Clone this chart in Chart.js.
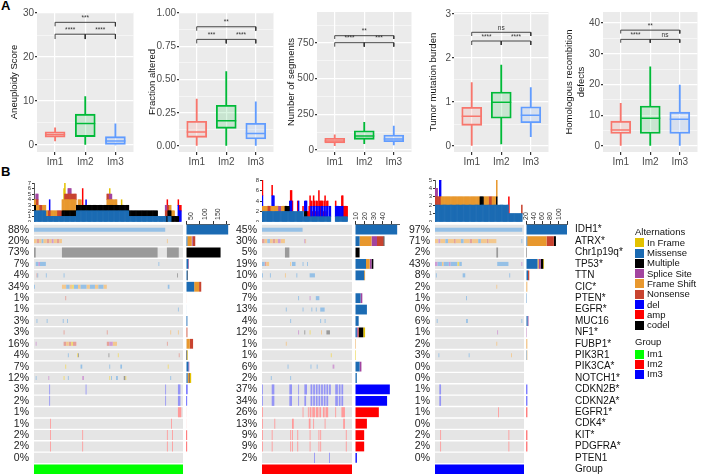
<!DOCTYPE html>
<html>
<head>
<meta charset="utf-8">
<script src="https://cdn.jsdelivr.net/npm/chart.js@4.4.1/dist/chart.umd.min.js"></script>
<style>
  body { margin:0; width:709px; height:476px; position:relative; overflow:hidden; background:#fff; font-family:'Liberation Sans', Arial, sans-serif; }
  canvas { position:absolute; }
  .tag { position:absolute; font-weight:bold; font-size:13px; }
  .leg { position:absolute; font-size:9.5px; line-height:10px; color:#111; white-space:nowrap; }
  .sw { position:absolute; width:9px; height:9px; }
</style>
</head>
<body>
<div class="tag" style="left:1px;top:-2px">A</div>
<div class="tag" style="left:1px;top:164px">B</div>

<canvas id="box1" width="145" height="170" style="left:0;top:0"></canvas>
<canvas id="box2" width="140" height="170" style="left:145px;top:0"></canvas>
<canvas id="box3" width="138" height="170" style="left:285px;top:0"></canvas>
<canvas id="box4" width="137" height="170" style="left:423px;top:0"></canvas>
<canvas id="box5" width="149" height="170" style="left:560px;top:0"></canvas>

<canvas id="top1" width="183" height="42" style="left:0;top:180px"></canvas>
<canvas id="top2" width="120" height="44" style="left:232px;top:178px"></canvas>
<canvas id="top3" width="119" height="44" style="left:405px;top:178px"></canvas>

<canvas id="mat1" width="183" height="251" style="left:0;top:224px"></canvas>
<canvas id="mat2" width="120" height="251" style="left:232px;top:224px"></canvas>
<canvas id="mat3" width="119" height="251" style="left:405px;top:224px"></canvas>

<canvas id="side1" width="50" height="285" style="left:181px;top:190px"></canvas>
<canvas id="side2" width="51" height="285" style="left:350px;top:190px"></canvas>
<canvas id="side3" width="188" height="285" style="left:521px;top:190px"></canvas>

<div id="legend"></div>

<script>
'use strict';

// ---------- panel A : boxplots ----------
const groups = ['Im1', 'Im2', 'Im3'];
const groupColors = ['#F8766D', '#00BA38', '#619CFF'];
const groupFills = ['rgba(248,118,109,0.15)', 'rgba(0,186,56,0.15)', 'rgba(97,156,255,0.15)'];

// [min, q1, median, q3, max] for Im1, Im2, Im3
const aneuploidy = [[0.9, 1.8, 2.4, 3.0, 3.9], [0, 1.9, 4.9, 7.0, 11], [0, 0, 0.9, 1.9, 4.8]];
const fractionAltered = [[0, 0.065, 0.105, 0.186, 0.353], [0, 0.133, 0.19, 0.306, 0.559], [0, 0.053, 0.095, 0.171, 0.333]];
const segments = [[30, 49, 63, 82, 107], [44, 75, 98, 135, 194], [35, 58, 77, 105, 168]];
const tmb = [[0, 0.47, 0.675, 0.88, 1.44], [0.045, 0.63, 0.993, 1.227, 1.84], [0.21, 0.53, 0.697, 0.893, 1.325]];
const hrd = [[0, 4.1, 5.2, 8.1, 13.9], [0, 4.1, 9.0, 13, 25.8], [0, 4.1, 8.7, 11, 19.8]];

// significance brackets: [from, to, height, tip, label]
const aneuploidySig = [[1, 3, 27.9, 27.0, '***'], [1, 2, 25.2, 24.1, '****'], [2, 3, 25.2, 24.1, '****']];
const fractionSig = [[1, 3, 0.897, 0.867, '**'], [1, 2, 0.802, 0.772, '***'], [2, 3, 0.802, 0.772, '****']];
const segmentsSig = [[1, 3, 801, 778, '**'], [1, 2, 752, 724, '****'], [2, 3, 752, 724, '***']];
const tmbSig = [[1, 3, 2.584, 2.5, 'ns'], [1, 2, 2.386, 2.295, '****'], [2, 3, 2.386, 2.295, '****']];
const hrdSig = [[1, 3, 37.7, 36.6, '**'], [1, 2, 34.7, 33.6, '****'], [2, 3, 34.7, 33.6, 'ns']];

// y tick labels (major) and minor grid positions
const aneuploidyTicks = [0, 10, 20, 30], aneuploidyMinor = [5, 15, 25];
const fractionTicks = [0, 0.25, 0.5, 0.75, 1], fractionMinor = [0.125, 0.375, 0.625, 0.875];
const segmentsTicks = [0, 250, 500, 750], segmentsMinor = [125, 375, 625, 875];
const tmbTicks = [0, 1, 2, 3], tmbMinor = [0.5, 1.5, 2.5];
const hrdTicks = [0, 10, 20, 30, 40], hrdMinor = [5, 15, 25, 35];

// ---------- panel B : oncoprint ----------
const genes = ['IDH1*', 'ATRX*', 'Chr1p19q*', 'TP53*', 'TTN', 'CIC*', 'PTEN*', 'EGFR*', 'MUC16', 'NF1*',
  'FUBP1*', 'PIK3R1', 'PIK3CA*', 'NOTCH1*', 'CDKN2B*', 'CDKN2A*', 'EGFR1*', 'CDK4*', 'KIT*', 'PDGFRA*', 'PTEN1'];

const altKeys = ['if', 'mis', 'mul', 'sp', 'fs', 'ns', 'del', 'amp', 'codel'];
const altNames = ['In Frame', 'Missense', 'Multiple', 'Splice Site', 'Frame Shift', 'Nonsense', 'del', 'amp', 'codel'];
const altColors = ['#E3C200', '#1B6BB3', '#000000', '#A2449F', '#E8982E', '#C8432F', '#0000FF', '#FF0000', '#000000'];
const altLight = ['#F0D96A', '#95C0E6', '#9A9A9A', '#D09CD3', '#F3C88E', '#E5A199', '#9494F6', '#FF9A9A', '#9A9A9A'];
const fullHeight = ['del', 'amp', 'codel'];
const topOrder = ['mis', 'codel', 'mul', 'fs', 'ns', 'sp', 'if', 'del', 'amp'];
const sideOrder = ['mis', 'fs', 'sp', 'ns', 'mul', 'if', 'del', 'amp', 'codel'];

const groupNames = ['Im1', 'Im2', 'Im3'];
const groupBarColors = ['#00FF00', '#FF0000', '#0000FF'];

// samples per group
const leftN = 176, midN = 102, rightN = 103;

// altered frequency labels
const leftPct = ['88%', '20%', '73%', '7%', '4%', '34%', '1%', '1%', '3%', '3%', '16%', '4%', '7%', '12%', '3%', '2%', '1%', '1%', '2%', '2%', '0%'];
const midPct = ['45%', '30%', '5%', '19%', '10%', '0%', '7%', '13%', '4%', '12%', '1%', '1%', '6%', '2%', '37%', '34%', '26%', '13%', '9%', '9%', '2%'];
const rightPct = ['97%', '71%', '2%', '43%', '8%', '2%', '1%', '0%', '6%', '1%', '2%', '3%', '0%', '0%', '1%', '1%', '1%', '0%', '2%', '2%', '0%'];

// matrix cells: [gene row, first sample, last sample (excl), alteration]
const leftMarks = [
  [0, 0, 155, 'mis'],
  [1, 0, 3, 'fs'], [1, 3, 6, 'ns'], [1, 6, 9, 'fs'], [1, 9, 11, 'mis'], [1, 11, 15, 'fs'], [1, 15, 18, 'ns'], [1, 18, 21, 'fs'],
  [1, 21, 23, 'sp'], [1, 23, 27, 'fs'], [1, 27, 30, 'ns'], [1, 30, 33, 'fs'], [1, 157, 158, 'fs'],
  [2, 0, 2, 'codel'], [2, 33, 146, 'codel'], [2, 157, 171, 'codel'],
  [3, 2, 5, 'mis'], [3, 5, 7, 'sp'], [3, 7, 14, 'mis'], [3, 147, 148, 'mis'],
  [4, 3, 4, 'ns'], [4, 4, 5, 'mis'], [4, 14, 15, 'mis'], [4, 35, 36, 'mis'], [4, 169, 170, 'mul'],
  [5, 0, 1, 'mis'], [5, 33, 38, 'fs'], [5, 38, 42, 'mis'], [5, 42, 45, 'fs'], [5, 45, 47, 'if'], [5, 47, 52, 'mis'], [5, 52, 55, 'fs'],
  [5, 55, 62, 'mis'], [5, 62, 66, 'fs'], [5, 66, 72, 'mis'], [5, 72, 76, 'fs'], [5, 76, 82, 'mis'], [5, 82, 86, 'fs'], [5, 158, 160, 'mis'],
  [6, 37, 38, 'ns'],
  [7, 170, 171, 'mis'],
  [8, 3, 4, 'mis'], [8, 15, 16, 'mis'], [8, 34, 35, 'mis'], [8, 39, 40, 'mis'],
  [9, 35, 36, 'ns'], [9, 86, 87, 'ns'], [9, 161, 162, 'fs'], [9, 170, 171, 'fs'],
  [10, 2, 3, 'sp'], [10, 35, 38, 'ns'], [10, 38, 41, 'fs'], [10, 41, 44, 'ns'], [10, 44, 46, 'if'], [10, 46, 50, 'ns'],
  [10, 86, 89, 'ns'], [10, 89, 93, 'sp'], [10, 93, 98, 'fs'], [10, 157, 158, 'ns'],
  [11, 40, 41, 'mis'], [11, 51, 52, 'if'], [11, 52, 53, 'mul'], [11, 88, 89, 'mul'], [11, 99, 100, 'if'], [11, 171, 172, 'ns'],
  [12, 37, 38, 'if'], [12, 55, 57, 'mis'], [12, 89, 90, 'mis'], [12, 102, 104, 'mis'], [12, 158, 159, 'if'],
  [13, 2, 3, 'mis'], [13, 17, 18, 'sp'], [13, 35, 36, 'if'], [13, 40, 41, 'mis'], [13, 57, 59, 'sp'], [13, 89, 90, 'if'],
  [13, 91, 92, 'mis'], [13, 97, 99, 'mis'], [13, 106, 108, 'mul'], [13, 108, 109, 'if'], [13, 161, 162, 'mis'],
  [14, 18, 19, 'del'], [14, 61, 62, 'del'], [14, 155, 156, 'del'], [14, 170, 173, 'del'],
  [15, 18, 19, 'del'], [15, 155, 156, 'del'], [15, 170, 173, 'del'],
  [16, 170, 174, 'amp'],
  [17, 19, 20, 'amp'], [17, 162, 163, 'amp'],
  [18, 19, 20, 'amp'], [18, 57, 58, 'amp'], [18, 157, 158, 'amp'], [18, 163, 164, 'amp'],
  [19, 19, 20, 'amp'], [19, 57, 58, 'amp'], [19, 157, 158, 'amp'], [19, 163, 164, 'amp']
];

const midMarks = [
  [0, 0, 46, 'mis'],
  [1, 0, 3, 'ns'], [1, 3, 6, 'fs'], [1, 6, 9, 'mis'], [1, 9, 12, 'fs'], [1, 12, 15, 'ns'], [1, 15, 18, 'fs'], [1, 18, 21, 'sp'],
  [1, 21, 26, 'fs'], [1, 48, 49, 'sp'], [1, 49, 50, 'fs'],
  [2, 26, 31, 'codel'],
  [3, 0, 3, 'mis'], [3, 3, 5, 'ns'], [3, 5, 8, 'fs'], [3, 32, 33, 'fs'], [3, 34, 38, 'mis'], [3, 46, 47, 'mis'], [3, 51, 52, 'mis'],
  [4, 0, 1, 'mis'], [4, 9, 10, 'mis'], [4, 26, 27, 'fs'], [4, 39, 40, 'mis'], [4, 54, 60, 'mis'],
  [6, 41, 42, 'mis'], [6, 54, 55, 'sp'], [6, 61, 65, 'mis'],
  [7, 27, 28, 'mis'], [7, 46, 47, 'mis'], [7, 56, 57, 'mis'], [7, 61, 62, 'mis'], [7, 66, 71, 'mis'],
  [8, 32, 33, 'mis'], [8, 66, 67, 'mis'], [8, 71, 72, 'mis'],
  [9, 41, 42, 'sp'], [9, 48, 49, 'mul'], [9, 54, 55, 'if'], [9, 67, 68, 'fs'], [9, 73, 77, 'mul'],
  [10, 27, 28, 'fs'],
  [11, 78, 79, 'if'],
  [12, 29, 30, 'mis'], [12, 55, 56, 'mis'], [12, 62, 63, 'mis'], [12, 80, 82, 'sp'],
  [13, 10, 11, 'mis'], [13, 32, 33, 'mis'],
  [14, 0, 1, 'del'], [14, 11, 14, 'del'], [14, 31, 34, 'del'], [14, 41, 42, 'del'], [14, 48, 51, 'del'], [14, 55, 57, 'del'],
  [14, 58, 60, 'del'], [14, 61, 63, 'del'], [14, 64, 66, 'del'], [14, 67, 69, 'del'], [14, 70, 72, 'del'], [14, 73, 75, 'del'],
  [14, 76, 78, 'del'], [14, 83, 86, 'del'], [14, 87, 89, 'del'], [14, 90, 92, 'del'],
  [15, 0, 1, 'del'], [15, 11, 14, 'del'], [15, 31, 34, 'del'], [15, 41, 42, 'del'], [15, 48, 50, 'del'], [15, 55, 57, 'del'],
  [15, 58, 60, 'del'], [15, 61, 63, 'del'], [15, 64, 66, 'del'], [15, 67, 69, 'del'], [15, 70, 72, 'del'], [15, 73, 75, 'del'],
  [15, 83, 86, 'del'], [15, 87, 89, 'del'], [15, 90, 92, 'del'],
  [16, 0, 1, 'amp'], [16, 46, 47, 'amp'], [16, 52, 53, 'amp'], [16, 54, 56, 'amp'], [16, 57, 60, 'amp'], [16, 61, 64, 'amp'],
  [16, 65, 67, 'amp'], [16, 69, 71, 'amp'], [16, 72, 75, 'amp'], [16, 83, 84, 'amp'], [16, 90, 94, 'amp'],
  [17, 0, 1, 'amp'], [17, 14, 15, 'amp'], [17, 34, 36, 'amp'], [17, 53, 55, 'amp'], [17, 58, 59, 'amp'], [17, 71, 72, 'amp'], [17, 92, 94, 'amp'],
  [18, 0, 1, 'amp'], [18, 11, 12, 'amp'], [18, 32, 33, 'amp'], [18, 34, 35, 'amp'], [18, 40, 41, 'amp'], [18, 54, 55, 'amp'],
  [18, 64, 65, 'amp'], [18, 66, 67, 'amp'], [18, 95, 96, 'amp'],
  [19, 0, 1, 'amp'], [19, 11, 12, 'amp'], [19, 32, 33, 'amp'], [19, 34, 35, 'amp'], [19, 40, 41, 'amp'], [19, 54, 55, 'amp'],
  [19, 64, 65, 'amp'], [19, 66, 67, 'amp'], [19, 95, 96, 'amp'],
  [20, 59, 60, 'del'], [20, 76, 77, 'del']
];

const rightMarks = [
  [0, 0, 101, 'mis'],
  [1, 0, 4, 'fs'], [1, 4, 6, 'sp'], [1, 6, 12, 'fs'], [1, 12, 15, 'mis'], [1, 15, 22, 'fs'], [1, 22, 24, 'ns'], [1, 24, 30, 'fs'],
  [1, 30, 33, 'mis'], [1, 33, 40, 'fs'], [1, 40, 43, 'ns'], [1, 43, 50, 'fs'], [1, 50, 53, 'mis'], [1, 53, 60, 'fs'],
  [1, 60, 62, 'ns'], [1, 62, 71, 'fs'], [1, 100, 101, 'mis'],
  [2, 71, 73, 'codel'],
  [3, 0, 3, 'sp'], [3, 3, 8, 'mis'], [3, 8, 10, 'fs'], [3, 10, 16, 'mis'], [3, 16, 18, 'sp'], [3, 18, 26, 'mis'], [3, 26, 28, 'if'],
  [3, 28, 31, 'mis'], [3, 72, 85, 'mis'], [3, 100, 101, 'sp'],
  [4, 1, 2, 'mis'], [4, 32, 35, 'mis'], [4, 86, 87, 'mis'],
  [5, 71, 72, 'fs'],
  [6, 36, 37, 'mis'],
  [8, 2, 3, 'mis'], [8, 36, 38, 'mis'], [8, 100, 101, 'mis'],
  [9, 72, 73, 'sp'],
  [10, 71, 72, 'fs'],
  [11, 4, 5, 'mis'], [11, 39, 40, 'mis'], [11, 88, 89, 'fs'],
  [14, 5, 7, 'del'], [15, 5, 7, 'del'],
  [16, 73, 74, 'amp'],
  [18, 6, 7, 'amp'], [18, 85, 86, 'amp'],
  [19, 6, 7, 'amp'], [19, 85, 86, 'amp']
];

// alterations per sample (top bars): [first sample, last sample (excl), alteration, count]
const leftTop = [
  [0, 14, 'mis', 2], [14, 33, 'mis', 1], [0, 2, 'codel', 1],
  [0, 6, 'fs', 1], [6, 10, 'ns', 1], [10, 16, 'fs', 1], [16, 20, 'ns', 1], [20, 27, 'fs', 1], [27, 33, 'ns', 1],
  [2, 5, 'sp', 1], [2, 5, 'ns', 1], [18, 19, 'del', 2],
  [33, 156, 'mis', 1], [33, 146, 'codel', 1],
  [33, 50, 'fs', 2], [36, 50, 'ns', 1], [35, 37, 'if', 2], [40, 44, 'sp', 1],
  [50, 100, 'mis', 1], [52, 56, 'fs', 1], [57, 58, 'amp', 3], [61, 62, 'del', 1],
  [86, 98, 'fs', 1], [88, 92, 'sp', 1], [86, 88, 'ns', 1], [89, 90, 'if', 1],
  [100, 112, 'mis', 1], [103, 104, 'if', 1],
  [156, 171, 'codel', 1], [155, 160, 'ns', 1], [155, 157, 'sp', 1], [157, 158, 'amp', 2], [158, 162, 'mis', 1], [160, 166, 'fs', 1],
  [170, 174, 'del', 2], [170, 174, 'amp', 1]
];

const midTop = [
  [0, 47, 'mis', 2], [47, 78, 'mis', 1], [83, 97, 'mis', 1],
  [0, 6, 'fs', 1], [6, 10, 'ns', 1], [10, 18, 'fs', 1], [18, 22, 'sp', 1], [22, 26, 'fs', 1],
  [0, 1, 'del', 2], [0, 1, 'amp', 3], [11, 14, 'del', 2], [11, 12, 'amp', 2],
  [26, 31, 'codel', 1], [31, 34, 'del', 2], [32, 35, 'amp', 2],
  [40, 41, 'amp', 2], [41, 42, 'del', 2], [46, 47, 'amp', 1],
  [48, 51, 'del', 2], [48, 51, 'mul', 1], [51, 75, 'amp', 1],
  [55, 57, 'del', 2], [58, 60, 'del', 2], [61, 63, 'del', 2], [64, 66, 'del', 2], [67, 69, 'del', 2], [70, 72, 'del', 2],
  [73, 75, 'del', 2], [76, 78, 'del', 2],
  [53, 55, 'amp', 1], [58, 59, 'amp', 1], [71, 72, 'amp', 1], [54, 55, 'amp', 2], [64, 65, 'amp', 2], [66, 67, 'amp', 2],
  [83, 92, 'del', 2], [83, 84, 'amp', 1], [90, 95, 'amp', 2], [95, 97, 'amp', 2]
];

const rightTop = [
  [0, 85, 'mis', 2], [85, 101, 'mis', 1],
  [0, 3, 'sp', 1], [0, 7, 'ns', 1], [5, 7, 'del', 2], [6, 7, 'amp', 2],
  [7, 52, 'fs', 1], [52, 56, 'mul', 1], [56, 62, 'fs', 1], [62, 66, 'ns', 1], [66, 71, 'fs', 1],
  [71, 72, 'codel', 1], [71, 72, 'fs', 2],
  [85, 86, 'amp', 2], [100, 101, 'ns', 1]
];

// side bars (altered samples per gene): [gene row, alteration, count]
const leftSide = [
  [0, 'mis', 155], [1, 'mis', 5], [1, 'fs', 16], [1, 'sp', 3], [1, 'ns', 10], [2, 'codel', 127],
  [3, 'mis', 8], [3, 'sp', 2], [3, 'ns', 1], [4, 'mis', 5], [4, 'mul', 2], [5, 'mis', 30], [5, 'fs', 18], [5, 'ns', 8],
  [6, 'ns', 2], [7, 'mis', 2], [8, 'mis', 5], [9, 'fs', 2], [9, 'ns', 3], [10, 'mis', 2], [10, 'fs', 12], [10, 'ns', 12],
  [11, 'mis', 2], [11, 'if', 2], [11, 'mul', 2], [12, 'mis', 9], [12, 'sp', 3], [13, 'mis', 6], [13, 'mul', 2], [13, 'fs', 6],
  [13, 'if', 5], [14, 'del', 5], [15, 'del', 4], [16, 'amp', 2], [17, 'amp', 2], [18, 'amp', 4], [19, 'amp', 4]
];

const midSide = [
  [0, 'mis', 46], [1, 'mis', 5], [1, 'fs', 13], [1, 'sp', 6], [1, 'ns', 7], [1, 'mul', 1], [2, 'codel', 5],
  [3, 'mis', 12], [3, 'fs', 4], [3, 'sp', 2], [3, 'mul', 2], [4, 'mis', 10], [4, 'fs', 1], [6, 'mis', 6], [6, 'sp', 2],
  [7, 'mis', 13], [8, 'mis', 4], [9, 'mis', 2], [9, 'sp', 1], [9, 'ns', 1], [9, 'mul', 5], [9, 'if', 2], [10, 'fs', 1],
  [11, 'if', 1], [12, 'mis', 5], [12, 'sp', 2], [13, 'mis', 2], [14, 'del', 38], [15, 'del', 35], [16, 'amp', 26],
  [17, 'amp', 13], [18, 'amp', 10], [19, 'amp', 10], [20, 'del', 2]
];

const rightSide = [
  [0, 'mis', 100], [1, 'mis', 3], [1, 'fs', 47], [1, 'ns', 18], [1, 'mul', 5], [2, 'codel', 2],
  [3, 'mis', 28], [3, 'fs', 3], [3, 'sp', 5], [3, 'mul', 6], [3, 'if', 2], [4, 'mis', 5], [4, 'ns', 3], [5, 'fs', 3],
  [6, 'mis', 2], [8, 'mis', 4], [8, 'sp', 2], [9, 'sp', 2], [10, 'fs', 3], [11, 'mis', 2], [11, 'fs', 1],
  [14, 'del', 3], [15, 'del', 3], [16, 'amp', 3], [18, 'amp', 3], [19, 'amp', 3]
];

Chart.defaults.font.family = "'Liberation Sans', Arial, sans-serif";
Chart.defaults.animation = false;
Chart.defaults.plugins.legend.display = false;
Chart.defaults.plugins.tooltip.enabled = false;

// grey ggplot panel
const panelBg = {
  id: 'panelBg',
  beforeDraw(chart, args, opts) {
    if (!opts.color) return;
    const { ctx, chartArea: a } = chart;
    ctx.save();
    ctx.fillStyle = opts.color;
    ctx.fillRect(a.left, a.top, a.width, a.height);
    ctx.restore();
  }
};

// star labels above brackets
const sigText = {
  id: 'sigText',
  afterDatasetsDraw(chart, args, opts) {
    if (!opts.items) return;
    const { ctx, scales: { x, y } } = chart;
    ctx.save();
    ctx.font = "6.5px 'Liberation Sans', Arial";
    ctx.fillStyle = '#333';
    ctx.textAlign = 'center';
    ctx.textBaseline = 'bottom';
    opts.items.forEach(b => {
      const px = (x.getPixelForValue(b[0]) + x.getPixelForValue(b[1])) / 2;
      ctx.fillText(b[4], px, y.getPixelForValue(b[2]) - 1);
    });
    ctx.restore();
  }
};
Chart.register(panelBg, sigText);

function boxPlot(id, o) {
  const pick = (a, b) => groups.map((g, i) => ({ x: i + 1, y: [o.stats[i][a], o.stats[i][b]] }));
  const datasets = [
    { type: 'bar', data: pick(0, 1), backgroundColor: groupColors, barThickness: 1.2, grouped: false, order: 3 },
    { type: 'bar', data: pick(3, 4), backgroundColor: groupColors, barThickness: 1.2, grouped: false, order: 3 },
    { type: 'bar', data: pick(1, 3), backgroundColor: groupFills, borderColor: groupColors, borderWidth: 1.2,
      borderSkipped: false, barThickness: 20, grouped: false, order: 2 },
    { type: 'line', data: groups.map((g, i) => ({ x: i + 1, y: o.stats[i][2] })), showLine: false,
      pointStyle: 'line', pointRadius: 10, pointBorderColor: groupColors, pointBorderWidth: 1.5, order: 1 }
  ];
  o.sig.forEach(b => datasets.push({
    type: 'line',
    data: [{ x: b[0], y: b[3] }, { x: b[0], y: b[2] }, { x: b[1], y: b[2] }, { x: b[1], y: b[3] }],
    borderColor: '#333', borderWidth: 0.9, pointRadius: 0, order: 0
  }));

  new Chart(document.getElementById(id), {
    type: 'bar',
    data: { datasets },
    options: {
      responsive: false,
      layout: { padding: { top: 12, right: o.padR, left: 0, bottom: 0 } },
      plugins: { panelBg: { color: '#EBEBEB' }, sigText: { items: o.sig } },
      scales: {
        x: {
          type: 'linear', min: 0.4, max: 3.6, offset: false,
          afterBuildTicks: s => { s.ticks = groups.map((g, i) => ({ value: i + 1 })); },
          ticks: { callback: v => groups[v - 1], color: '#4D4D4D', font: { size: 10 }, padding: 1, autoSkip: false, maxRotation: 0 },
          grid: { offset: false, color: '#fff', lineWidth: 1.2, tickColor: '#333', tickLength: 3 },
          border: { display: false },
          afterFit: s => { s.height = 18; }
        },
        y: {
          min: o.min, max: o.max,
          afterBuildTicks: s => {
            s.ticks = o.major.map(v => ({ value: v })).concat(o.minor.map(v => ({ value: v, minor: true })))
              .sort((a, b) => a.value - b.value);
          },
          ticks: {
            callback: (v, i, t) => t[i].minor ? '' : o.fmt(v),
            color: '#4D4D4D', font: { size: 10 }, padding: 1, autoSkip: false
          },
          grid: {
            color: '#fff',
            lineWidth: c => (c.tick && c.tick.minor ? 0.5 : 1.2),
            tickColor: c => (c.tick && c.tick.minor ? 'rgba(0,0,0,0)' : '#333'),
            tickLength: 2
          },
          border: { display: false },
          title: { display: true, text: o.title, color: '#111', font: { size: 9.5 }, padding: { top: o.titlePad, bottom: 0 } },
          afterFit: s => { s.width = o.axisW; }
        }
      }
    }
  });
}

boxPlot('box1', { stats: aneuploidy, sig: aneuploidySig, title: 'Aneuploidy Score', min: -1.6, max: 30.25,
  major: aneuploidyTicks, minor: aneuploidyMinor, fmt: v => String(v), axisW: 37, padR: 2, titlePad: 9 });
boxPlot('box2', { stats: fractionAltered, sig: fractionSig, title: 'Fraction altered', min: -0.045, max: 1.008,
  major: fractionTicks, minor: fractionMinor, fmt: v => v.toFixed(2), axisW: 34, padR: 3, titlePad: 2 });
boxPlot('box3', { stats: segments, sig: segmentsSig, title: 'Number of segments', min: -14, max: 967,
  major: segmentsTicks, minor: segmentsMinor, fmt: v => String(v), axisW: 32, padR: 2, titlePad: 1 });
boxPlot('box4', { stats: tmb, sig: tmbSig, title: 'Tumor mutation burden', min: -0.136, max: 3.045,
  major: tmbTicks, minor: tmbMinor, fmt: v => String(v), axisW: 31, padR: 2, titlePad: 5 });
boxPlot('box5', { stats: hrd, sig: hrdSig, title: ['Homologous recombition', 'defects'], min: -1.95, max: 43.6,
  major: hrdTicks, minor: hrdMinor, fmt: v => String(v), axisW: 43, padR: 1, titlePad: 4 });

// ---------- oncoprint pieces ----------
const rows = genes.concat(['Group']);
const colorOf = k => altColors[altKeys.indexOf(k)];
const lightOf = k => altLight[altKeys.indexOf(k)];

function topBars(id, n, runs, max, step, axisW, padTop) {
  const labels = Array.from({ length: n }, (v, i) => i);
  const datasets = topOrder.map(k => {
    const data = labels.map(() => null);
    runs.filter(r => r[2] === k).forEach(r => {
      for (let i = r[0]; i < r[1]; i++) data[i] = (data[i] || 0) + r[3];
    });
    return { data, backgroundColor: colorOf(k), barPercentage: 1, categoryPercentage: 1 };
  });
  new Chart(document.getElementById(id), {
    type: 'bar',
    data: { labels, datasets },
    options: {
      responsive: false,
      layout: { padding: { top: padTop, right: 0, left: 0, bottom: 0 } },
      scales: {
        x: { stacked: true, display: false },
        y: {
          stacked: true, min: 0, max,
          ticks: { stepSize: step, autoSkip: false, font: { size: 6 }, color: '#333', padding: 1 },
          grid: { drawOnChartArea: false, tickLength: 2, color: '#333' },
          border: { color: '#333', width: 0.8 },
          afterFit: s => { s.width = axisW; s.paddingTop = 0; s.paddingBottom = 0; }
        }
      }
    }
  });
}

function matrix(id, n, marks, pct, axisW, groupColor) {
  const datasets = [{ data: genes.map(g => ({ x: [0, n], y: g })), backgroundColor: '#E5E5E5', barPercentage: 0.88, order: 5 }];
  altKeys.forEach(k => {
    const m = marks.filter(r => r[3] === k);
    if (!m.length) return;
    const full = fullHeight.includes(k);
    datasets.push({
      data: m.map(r => ({ x: [r[1], r[2]], y: genes[r[0]] })),
      backgroundColor: lightOf(k),
      barPercentage: full ? 0.88 : 0.36,
      order: full ? 2 : 1
    });
  });
  datasets.push({ data: [{ x: [0, n], y: 'Group' }], backgroundColor: groupColor, barPercentage: 0.82, order: 0 });
  new Chart(document.getElementById(id), {
    type: 'bar',
    data: { labels: rows, datasets },
    options: {
      indexAxis: 'y',
      responsive: false,
      datasets: { bar: { grouped: false, categoryPercentage: 1 } },
      scales: {
        x: { type: 'linear', min: 0, max: n, display: false },
        y: {
          grid: { display: false, drawTicks: false }, border: { display: false },
          ticks: { autoSkip: false, callback: (v, i) => pct[i] || '', color: '#222', font: { size: 10.5 }, padding: 5 },
          afterFit: s => { s.width = axisW; s.paddingTop = 0; s.paddingBottom = 0; }
        }
      }
    }
  });
}

function sideBars(id, counts, max, step, showGenes) {
  const datasets = sideOrder.map(k => {
    const data = rows.map(() => null);
    counts.filter(c => c[1] === k).forEach(c => { data[c[0]] = c[2]; });
    return { data, backgroundColor: colorOf(k), barPercentage: 0.86, categoryPercentage: 1 };
  });
  new Chart(document.getElementById(id), {
    type: 'bar',
    data: { labels: rows, datasets },
    options: {
      indexAxis: 'y',
      responsive: false,
      layout: { padding: { left: 5, right: showGenes ? 0 : 2, top: 0, bottom: 0 } },
      scales: {
        x: {
          position: 'top', stacked: true, min: 0, max,
          ticks: { stepSize: step, includeBounds: false, autoSkip: false, minRotation: 90, maxRotation: 90,
            font: { size: 7 }, color: '#333', padding: 1 },
          grid: { drawOnChartArea: false, tickLength: 3, color: '#333' },
          border: { color: '#333', width: 0.8 },
          afterFit: s => { s.height = 34; s.paddingLeft = 0; s.paddingRight = 0; }
        },
        y: {
          stacked: true, display: showGenes, position: 'right',
          grid: { display: false, drawTicks: false }, border: { display: false },
          ticks: { autoSkip: false, font: { size: 10 }, color: '#111', padding: 8 },
          afterFit: s => { if (showGenes) s.width = 142; s.paddingTop = 0; s.paddingBottom = 0; }
        }
      }
    }
  });
}

topBars('top1', leftN, leftTop, 7, 1, 34, 3);
topBars('top2', midN, midTop, 8, 2, 30, 2);
topBars('top3', rightN, rightTop, 5, 1, 30, 2);

matrix('mat1', leftN, leftMarks, leftPct, 34, groupBarColors[0]);
matrix('mat2', midN, midMarks, midPct, 30, groupBarColors[1]);
matrix('mat3', rightN, rightMarks, rightPct, 30, groupBarColors[2]);

sideBars('side1', leftSide, 158, 50, false);
sideBars('side2', midSide, 48, 10, false);
sideBars('side3', rightSide, 100, 20, true);

// ---------- legends ----------
const legend = document.getElementById('legend');
function legendText(text, left, top) {
  const d = document.createElement('div');
  d.className = 'leg';
  d.style.left = left + 'px';
  d.style.top = top + 'px';
  d.textContent = text;
  legend.appendChild(d);
}
function legendSwatch(color, left, top) {
  const d = document.createElement('div');
  d.className = 'sw';
  d.style.left = left + 'px';
  d.style.top = top + 'px';
  d.style.background = color;
  legend.appendChild(d);
}
legendText('Alternations', 635, 227);
altNames.forEach((name, i) => {
  const y = 242.7 + i * 10.3;
  legendSwatch(altColors[i], 635, y - 4.5);
  legendText(name, 647, y - 5);
});
legendText('Group', 635, 337);
groupNames.forEach((name, i) => {
  const y = 354 + i * 10;
  legendSwatch(groupBarColors[i], 635, y - 4.5);
  legendText(name, 647, y - 5);
});
</script>
</body>
</html>
